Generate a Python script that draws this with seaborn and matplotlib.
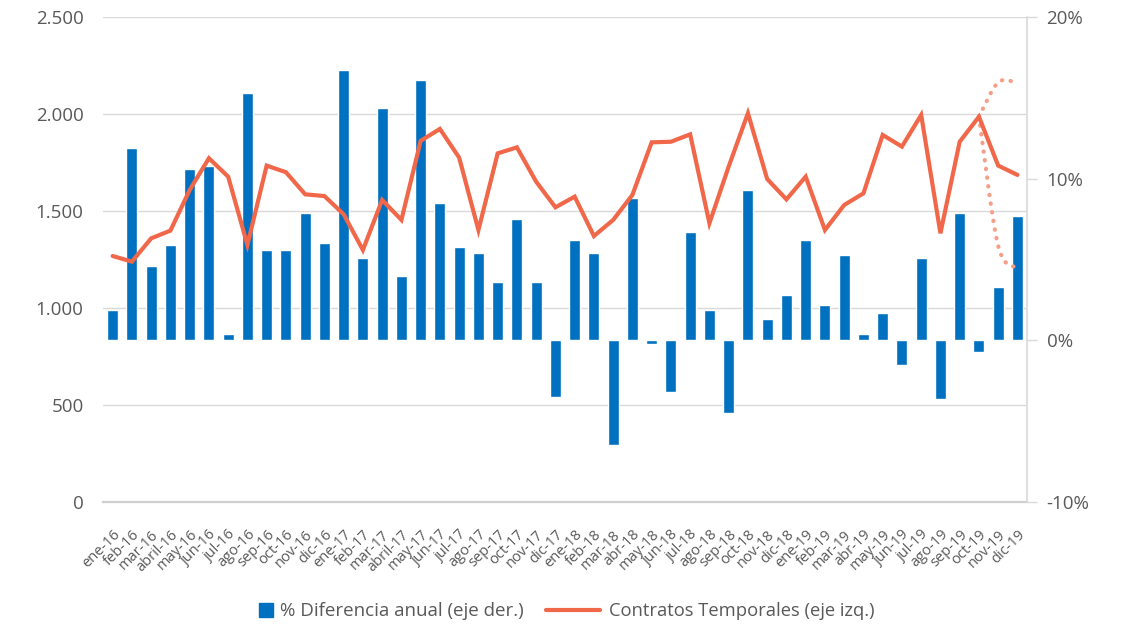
import numpy as np
import matplotlib
matplotlib.use("Agg")
import matplotlib.pyplot as plt
import seaborn as sns
from matplotlib.path import Path
from matplotlib.patches import PathPatch
from matplotlib.lines import Line2D
from matplotlib.ticker import FuncFormatter, FixedLocator

# Datos
meses = [
    "ene-16", "feb-16", "mar-16", "abril-16", "may-16", "jun-16", "jul-16", "ago-16",
    "sep-16", "oct-16", "nov-16", "dic-16",
    "ene-17", "feb-17", "mar-17", "abril-17", "may-17", "jun-17", "jul-17", "ago-17",
    "sep-17", "oct-17", "nov-17", "dic-17",
    "ene-18", "feb-18", "mar-18", "abr-18", "may-18", "jun-18", "jul-18", "ago-18",
    "sep-18", "oct-18", "nov-18", "dic-18",
    "ene-19", "feb-19", "mar-19", "abr-19", "may-19", "jun-19", "jul-19", "ago-19",
    "sep-19", "oct-19", "nov-19", "dic-19",
]

# % diferencia anual (eje derecho)
dif_anual = [
    1.9, 11.9, 4.6, 5.9, 10.6, 10.8, 0.4, 15.3, 5.6, 5.6, 7.9, 6.0,
    16.7, 5.1, 14.4, 4.0, 16.1, 8.5, 5.8, 5.4, 3.6, 7.5, 3.6, -3.5,
    6.2, 5.4, -6.5, 8.8, -0.2, -3.2, 6.7, 1.9, -4.5, 9.3, 1.3, 2.8,
    6.2, 2.2, 5.3, 0.4, 1.7, -1.5, 5.1, -3.6, 7.9, -0.7, 3.3, 7.7,
]

# Contratos temporales (eje izquierdo)
contratos = [
    1268, 1239, 1359, 1399, 1608, 1772, 1677, 1325, 1734, 1700, 1586, 1577,
    1483, 1299, 1557, 1454, 1862, 1923, 1775, 1402, 1797, 1828, 1651, 1519,
    1574, 1371, 1454, 1583, 1854, 1857, 1895, 1437, 1729, 2004, 1665, 1560,
    1677, 1402, 1531, 1591, 1892, 1832, 1995, 1385, 1857, 1986, 1734, 1686,
]

# Ramas punteadas al final (oct-19 a dic-19)
proy_x = [45, 46, 47]
proy_alta = [1986, 2163, 2160]
proy_baja = [1986, 1320, 1206]

azul = "#0070C0"
naranja = "#F0674A"
naranja_claro = "#F4A088"
gris_txt = "#595959"
gris_lin = "#D9D9D9"

sns.set_style("white")
plt.rcParams["font.family"] = ["Open Sans", "DejaVu Sans"]

fig = plt.figure(figsize=(11.31, 6.32), dpi=100)
ax = fig.add_axes([0.0911, 0.2057, 0.817, 0.7674])
ax2 = ax.twinx()
ax3 = ax.twinx()
ax.set_zorder(0)
ax2.set_zorder(1)
ax3.set_zorder(2)

x_idx = np.arange(len(meses))

# barras
sns.barplot(x=x_idx, y=dif_anual, ax=ax2, color=azul, width=0.57,
            saturation=1, native_scale=True)

# linea
sns.lineplot(x=x_idx, y=contratos, ax=ax3, color=naranja, linewidth=3,
             solid_joinstyle="miter")


def curva_suave(xs, ys):
    pts = list(zip(xs, ys))
    verts = [pts[0]]
    codes = [Path.MOVETO]
    for i in range(len(pts) - 1):
        p0 = pts[max(i - 1, 0)]
        p1 = pts[i]
        p2 = pts[i + 1]
        p3 = pts[min(i + 2, len(pts) - 1)]
        c1 = (p1[0] + (p2[0] - p0[0]) / 6, p1[1] + (p2[1] - p0[1]) / 6)
        c2 = (p2[0] - (p3[0] - p1[0]) / 6, p2[1] - (p3[1] - p1[1]) / 6)
        verts += [c1, c2, p2]
        codes += [Path.CURVE4] * 3
    return Path(verts, codes)


for serie in (proy_alta, proy_baja):
    patch = PathPatch(curva_suave(proy_x, serie), fill=False, edgecolor=naranja_claro,
                      linewidth=3, linestyle=(0, (0.1, 2.0)))
    patch.set_capstyle("round")
    ax3.add_patch(patch)

# ejes
for a in (ax, ax2, ax3):
    a.set_xlim(-0.5, 47.5)
    a.set_xlabel("")
    a.set_ylabel("")
    for s in a.spines.values():
        s.set_visible(False)

ax.set_ylim(0, 2500)
ax3.set_ylim(0, 2500)
ax2.set_ylim(-10, 20)

ax.yaxis.set_major_locator(FixedLocator([0, 500, 1000, 1500, 2000, 2500]))
ax.yaxis.set_major_formatter(FuncFormatter(lambda v, p: f"{v:,.0f}".replace(",", ".")))
ax.grid(axis="y", color=gris_lin, linewidth=1)
ax.grid(axis="x", visible=False)
ax.tick_params(axis="y", length=0, pad=14, labelsize=13.5, labelcolor=gris_txt)
ax.spines["bottom"].set_visible(True)
ax.spines["bottom"].set_color("#D0D0D0")
ax.spines["bottom"].set_linewidth(1.6)

ax.set_xticks(x_idx)
ax.set_xticklabels(meses, rotation=45, ha="right", rotation_mode="anchor")
ax.tick_params(axis="x", length=0, pad=18, labelsize=10.5, labelcolor=gris_txt)

ax2.yaxis.set_major_locator(FixedLocator([-10, 0, 10, 20]))
ax2.yaxis.set_major_formatter(FuncFormatter(lambda v, p: f"{v:.0f}%"))
ax2.tick_params(axis="y", which="both", right=True, left=False, length=7, width=1,
                color=gris_lin, pad=7, labelsize=13.5, labelcolor=gris_txt)
ax2.spines["right"].set_visible(True)
ax2.spines["right"].set_color(gris_lin)
ax2.spines["right"].set_linewidth(1.2)

ax3.yaxis.set_visible(False)
ax3.xaxis.set_visible(False)
ax2.xaxis.set_visible(False)

# leyenda
h1 = Line2D([], [], marker="s", linestyle="none", color=azul, markersize=9.5)
h2 = Line2D([], [], color=naranja, linewidth=3)
fig.legend(handles=[h1], labels=["% Diferencia anual (eje der.)"], loc="center",
           bbox_to_anchor=(0.346, 0.033), frameon=False, fontsize=13.5, handlelength=0.7,
           handletextpad=0.4, labelcolor=gris_txt)
fig.legend(handles=[h2], labels=["Contratos Temporales (eje izq.)"], loc="center",
           bbox_to_anchor=(0.628, 0.033), frameon=False, fontsize=13.2, handlelength=2.9,
           handletextpad=0.5, labelcolor=gris_txt)

fig.savefig("out.png", dpi=100)
